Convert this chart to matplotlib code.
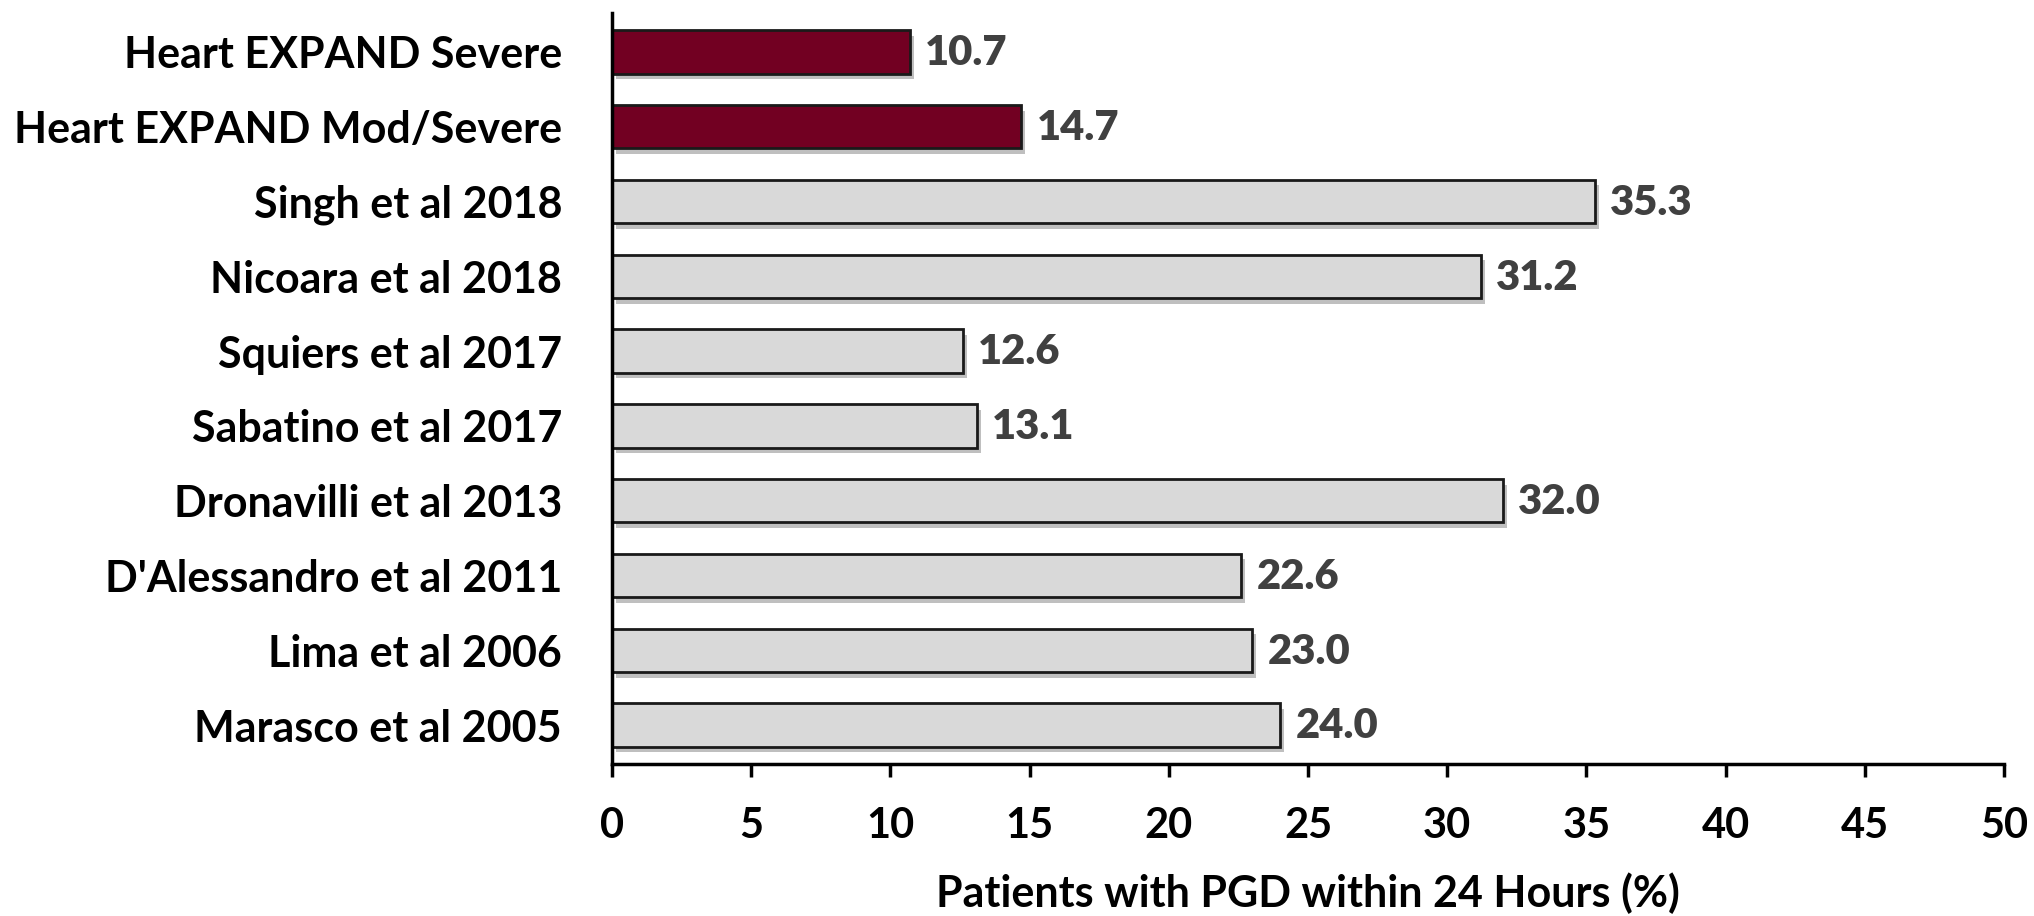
import numpy as np
import matplotlib.pyplot as plt
from matplotlib import patheffects

studies = ["Heart EXPAND Severe", "Heart EXPAND Mod/Severe", "Singh et al 2018",
           "Nicoara et al 2018", "Squiers et al 2017", "Sabatino et al 2017",
           "Dronavilli et al 2013", "D'Alessandro et al 2011", "Lima et al 2006",
           "Marasco et al 2005"]
pgd_pct = [10.7, 14.7, 35.3, 31.2, 12.6, 13.1, 32.0, 22.6, 23.0, 24.0]
is_expand = [True, True, False, False, False, False, False, False, False, False]

plt.rcParams['font.family'] = ['Lato', 'DejaVu Sans']
plt.rcParams['font.weight'] = 'bold'

fig = plt.figure(figsize=(20.34, 9.16), dpi=100)
ax = fig.add_axes([612 / 2034, 1 - 764 / 916, 1392 / 2034, 751 / 916])

colors = ['#720022' if e else '#D9D9D9' for e in is_expand]
y = np.arange(len(studies))
bars = ax.barh(y, pgd_pct, height=0.58, color=colors, edgecolor='#1a1a1a', linewidth=2)
for b in bars:
    b.set_path_effects([patheffects.SimplePatchShadow(offset=(3, -4), shadow_rgbFace='#808080', alpha=0.5),
                        patheffects.Normal()])

for yi, v in zip(y, pgd_pct):
    ax.annotate(f"{v:.1f}", xy=(v, yi), xytext=(11, -1), textcoords='offset points',
                va='center', ha='left', fontsize=30, fontweight='heavy', color='#404040')

ax.set_xlim(0, 50)
ax.set_ylim(len(studies) - 0.48, -0.52)
ax.set_xticks(np.arange(0, 51, 5))
ax.set_yticks(y)
ax.set_yticklabels(studies)

for s in ['top', 'right']:
    ax.spines[s].set_visible(False)
ax.spines['left'].set_linewidth(2.5)
ax.spines['bottom'].set_linewidth(2.5)

ax.tick_params(axis='y', length=0, pad=36, labelsize=31)
ax.tick_params(axis='x', direction='out', length=9, width=2.5, pad=22, labelsize=30)
ax.set_xlabel("Patients with PGD within 24 Hours (%)", fontsize=31, fontweight='bold', labelpad=20)

fig.savefig('out.png', dpi=100)
